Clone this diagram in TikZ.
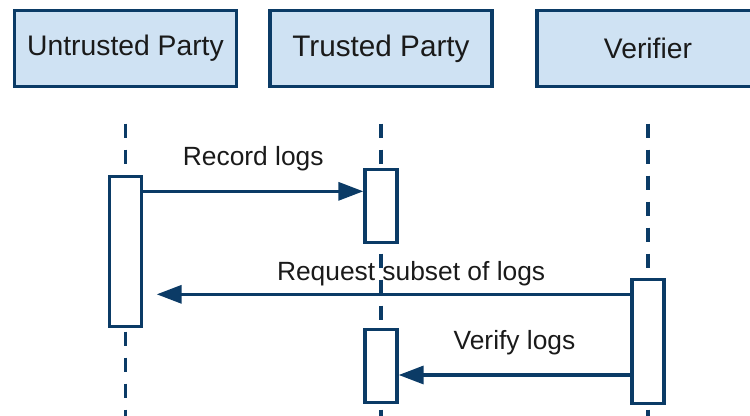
\documentclass[tikz,border=0pt]{standalone}
\usepackage{fontspec}
\setmainfont{Liberation Sans}
\usepackage{tikz}
\usetikzlibrary{shapes, arrows.meta}
\definecolor{partyfill}{HTML}{CFE2F3}
\definecolor{partyline}{HTML}{0B3B66}
\definecolor{labeltext}{HTML}{1A1A1A}
\tikzstyle{party} = [rectangle, minimum width=4.44cm, minimum height=1.52cm, text centered, draw=partyline, line width=1.9pt, fill=partyfill, text=labeltext, font=\fontsize{16.1}{18}\selectfont]
\tikzstyle{bar} = [rectangle, minimum width=0.64cm, inner sep=0pt, draw=partyline, line width=1.9pt, fill=white]
\tikzstyle{lifeline} = [draw=partyline, line width=1.9pt, dash pattern=on 0.28cm off 0.24cm]
\tikzstyle{line} = [draw=partyline, line width=1.9pt, -{Triangle[length=0.5cm, width=0.36cm]}]
\tikzstyle{msg} = [text=labeltext, font=\fontsize{15}{17}\selectfont, inner sep=0pt, anchor=base]

\begin{document}
\begin{tikzpicture}[node distance=2cm]
  \useasboundingbox (0,0) rectangle (15,-8.32);
  %% nodes
  % the three parties
  \node [party] (untrusted) at (2.51,-0.97) {Untrusted Party};
  \node [party, right of=untrusted, xshift=3.11cm, font=\fontsize{16.9}{18}\selectfont] (trusted) {Trusted Party};
  \node [party, right of=trusted, xshift=3.34cm] (verifier) {Verifier};
  % lifeline ends
  \coordinate [below of=untrusted, yshift=-5.35cm] (untrusted-end);
  \coordinate [below of=trusted, yshift=-5.35cm] (trusted-end);
  \coordinate [below of=verifier, yshift=-5.35cm] (verifier-end);
  % lifelines
  \path [lifeline] ([yshift=-0.71cm]untrusted.south) -- (untrusted-end);
  \path [lifeline] ([yshift=-0.71cm]trusted.south) -- (trusted-end);
  \path [lifeline] ([yshift=-0.71cm]verifier.south) -- (verifier-end);
  % activation bars
  \node [bar, minimum height=3cm, below of=untrusted, yshift=-2.06cm] (untrusted-bar) {};
  \node [bar, minimum height=1.46cm, below of=trusted, yshift=-1.15cm] (trusted-bar) {};
  \node [bar, minimum height=1.46cm, below of=trusted, yshift=-4.35cm] (trusted-bar-2) {};
  \node [bar, minimum height=2.48cm, below of=verifier, yshift=-3.86cm] (verifier-bar) {};
  %% edges
  % untrusted party to trusted party
  \coordinate (record) at ([yshift=-0.33cm]untrusted-bar.north east);
  \path [line] (record) -- (record -| trusted-bar.west) node[msg, midway, yshift=0.52cm] {Record logs};
  % verifier to untrusted party
  \coordinate (request) at ([yshift=-0.33cm]verifier-bar.north west);
  \path [line, shorten >=0.27cm] (request) -- (request -| untrusted-bar.east) node[msg, pos=0.45, yshift=0.28cm] {Request subset of logs};
  % verifier to trusted party
  \coordinate (verify) at ([yshift=-0.18cm]trusted-bar-2.east);
  \path [line] (verify -| verifier-bar.west) -- (verify) node[msg, midway, yshift=0.5cm] {Verify logs};
\end{tikzpicture}
\end{document}
